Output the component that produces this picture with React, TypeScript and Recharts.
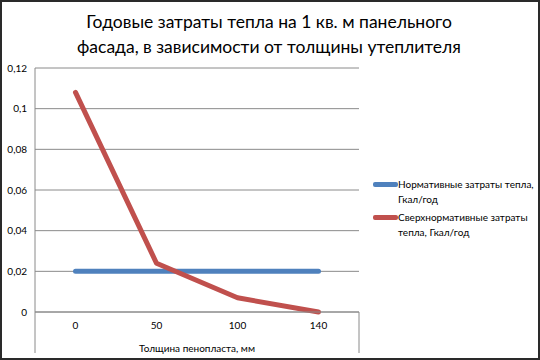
import React from 'react';
import { LineChart, Line, XAxis, YAxis, CartesianGrid } from 'recharts';

const categories = ['0', '50', '100', '140'];
const normativeValues = [0.02, 0.02, 0.02, 0.02];
const excessValues = [0.108, 0.024, 0.007, 0];
const yTicks = [0, 0.02, 0.04, 0.06, 0.08, 0.1, 0.12];

const titleLines = [
  'Годовые затраты тепла на 1 кв. м панельного',
  'фасада, в зависимости от толщины утеплителя',
];
const xAxisTitle = 'Толщина пенопласта, мм';
const seriesNames = [
  'Нормативные затраты тепла, Гкал/год',
  'Сверхнормативные затраты тепла, Гкал/год',
];
const seriesColors = ['#4F81BD', '#C0504D'];

const W = 540;
const H = 360;
const margin = { top: 68, right: 181, bottom: 0, left: 0 };
const yAxisWidth = 35;
const xAxisHeight = 48;
const FONT = 'Lato, "Open Sans", sans-serif';
const gridColor = '#8a8a8a';

const data = categories.map((c, i) => ({
  name: c,
  normative: normativeValues[i],
  excess: excessValues[i],
}));

const fmt = (v: number) => String(v).replace('.', ',');

export default function App() {
  const plotLeft = margin.left + yAxisWidth;
  const plotRight = W - margin.right;
  const plotBottom = H - margin.bottom - xAxisHeight;
  const frameBottom = H - 7;

  return (
    <div
      style={{
        position: 'absolute',
        left: 0,
        top: 0,
        width: W,
        height: H,
        background: '#fff',
        fontFamily: FONT,
      }}
    >
      <div
        style={{
          position: 'absolute',
          left: 0,
          width: 538,
          top: 9,
          textAlign: 'center',
          fontSize: 17.5,
          lineHeight: '25px',
          color: '#000',
        }}
      >
        {titleLines.map((t) => (
          <div key={t}>{t}</div>
        ))}
      </div>

      <LineChart width={W} height={H} data={data} margin={margin} style={{ position: 'absolute', left: 0, top: 0 }}>
        <CartesianGrid vertical={false} stroke={gridColor} />
        <XAxis
          dataKey="name"
          height={xAxisHeight}
          padding={{ left: 40.5, right: 40.5 }}
          tickLine={false}
          tickMargin={4}
          axisLine={{ stroke: gridColor }}
          tick={{ fill: '#000', fontSize: 10, fontFamily: FONT }}
          label={{ value: xAxisTitle, position: 'insideBottom', offset: 8, fill: '#000', fontSize: 10, fontFamily: FONT }}
        />
        <YAxis
          width={yAxisWidth}
          domain={[0, 0.12]}
          ticks={yTicks}
          tickFormatter={fmt}
          tickLine={false}
          axisLine={{ stroke: gridColor }}
          tick={{ fill: '#000', fontSize: 10, fontFamily: FONT }}
        />
        <Line
          dataKey="normative"
          name={seriesNames[0]}
          stroke={seriesColors[0]}
          strokeWidth={5}
          strokeLinecap="round"
          dot={false}
          type="linear"
          isAnimationActive={false}
        />
        <Line
          dataKey="excess"
          name={seriesNames[1]}
          stroke={seriesColors[1]}
          strokeWidth={5}
          strokeLinecap="round"
          strokeLinejoin="round"
          dot={false}
          type="linear"
          isAnimationActive={false}
        />
      </LineChart>

      <svg width={W} height={H} style={{ position: 'absolute', left: 0, top: 0, pointerEvents: 'none' }}>
        <line x1={plotLeft} x2={plotLeft} y1={plotBottom} y2={frameBottom} stroke={gridColor} />
        <line x1={plotRight} x2={plotRight} y1={plotBottom} y2={frameBottom} stroke={gridColor} />
      </svg>

      <div style={{ position: 'absolute', left: 373, top: 177, fontSize: 10, lineHeight: '15px', color: '#000' }}>
        {seriesNames.map((n, i) => (
          <div key={n} style={{ display: 'flex', alignItems: 'flex-start', marginBottom: 3 }}>
            <div style={{ width: 25, height: 5, borderRadius: 2, background: seriesColors[i], marginTop: 5 }} />
            <div style={{ width: 138 }}>{n}</div>
          </div>
        ))}
      </div>

      <div
        style={{
          position: 'absolute',
          left: 0,
          top: 0,
          width: W,
          height: H,
          boxSizing: 'border-box',
          border: '2px solid #2a2a2a',
          pointerEvents: 'none',
        }}
      />
    </div>
  );
}
